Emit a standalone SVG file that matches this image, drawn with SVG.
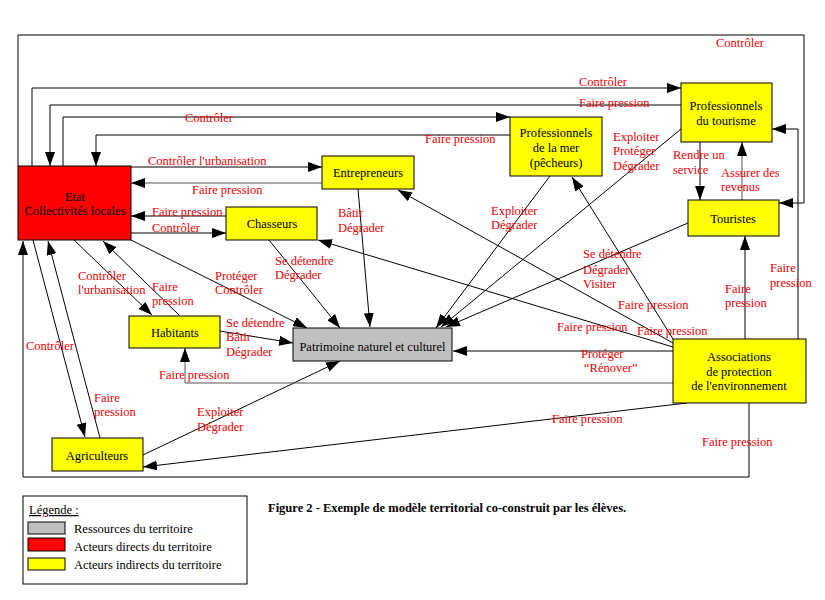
<svg xmlns="http://www.w3.org/2000/svg" width="825" height="600" viewBox="0 0 825 600">
<style>
.n{stroke:#000;stroke-width:1}
.y{fill:#ffff00}
.r{fill:#ff0000}
.g{fill:#c0c0c0}
.t{font-family:"Liberation Serif","Times New Roman",serif;font-size:12.5px;fill:#000}
.c{text-anchor:middle}
.l{font-family:"Liberation Serif","Times New Roman",serif;font-size:12.5px;fill:#ee0000}
.e path{fill:none;stroke:#000;stroke-width:1;marker-end:url(#a)}
.e path.q{stroke:#555}
</style>
<defs>
<marker id="a" viewBox="0 0 14 10" refX="14" refY="5" markerWidth="14" markerHeight="10" markerUnits="userSpaceOnUse" orient="auto">
<path d="M0,0 L14,5 L0,10 z" fill="#000"/>
</marker>
</defs>
<rect width="825" height="600" fill="#fff"/>
<g class="e" id="connectors">
<path d="M18,166 V35 H804 V203 H779"/>
<path d="M32,166 V88 H681"/>
<path d="M681,105 H50 V166"/>
<path d="M63,166 V117 H510"/>
<path d="M510,135 H96 V166"/>
<path d="M131,167 H322"/>
<path class="q" d="M322,183 H131"/>
<path d="M226,216 H131"/>
<path d="M131,233 H226"/>
<path d="M700,142 V200"/>
<path class="q" d="M742,200 V142"/>
<path d="M745,339 V236"/>
<path d="M798,339 V129 H772"/>
<path d="M749,403 V477 H23 V241"/>
<path d="M33,240 L85,437"/>
<path d="M100,438 L48,241"/>
<path d="M74,240 L152,315"/>
<path d="M179,315 L103,241"/>
<path d="M131,240 L307,328"/>
<path d="M269,240 L340,328"/>
<path d="M358,189 L370,327"/>
<path d="M220,331 L293,343"/>
<path d="M143,455 L340,361"/>
<path d="M550,176 L436,328"/>
<path d="M681,129 L441,327"/>
<path d="M688,223 L446,327"/>
<path d="M673,339 L572,177"/>
<path d="M673,343 L398,190"/>
<path d="M673,347 L318,240"/>
<path d="M673,351 H453"/>
<path class="q" d="M673,383 H185 V348"/>
<path d="M687,403 L143,467"/>
</g>
<g id="etat"><rect class="n r" x="18" y="166" width="113" height="74"/><text class="t c" x="75" y="201">Etat</text><text class="t c" x="75" y="215">Collectivités locales</text></g>
<g id="entrepreneurs"><rect class="n y" x="322" y="156" width="92" height="33"/><text class="t c" x="368" y="177">Entrepreneurs</text></g>
<g id="chasseurs"><rect class="n y" x="226" y="207" width="91" height="33"/><text class="t c" x="272" y="228">Chasseurs</text></g>
<g id="habitants"><rect class="n y" x="129" y="316" width="91" height="32"/><text class="t c" x="175" y="337">Habitants</text></g>
<g id="patrimoine"><rect class="n g" x="293" y="328" width="159" height="33"/><text class="t c" x="372.5" y="351">Patrimoine naturel et culturel</text></g>
<g id="agriculteurs"><rect class="n y" x="52" y="438" width="91" height="33"/><text class="t c" x="97" y="460">Agriculteurs</text></g>
<g id="prof-mer"><rect class="n y" x="510" y="117" width="92" height="59"/><text class="t c" x="556" y="137">Professionnels</text><text class="t c" x="556" y="152">de la mer</text><text class="t c" x="556" y="167">(pêcheurs)</text></g>
<g id="prof-tourisme"><rect class="n y" x="681" y="83" width="91" height="59"/><text class="t c" x="726" y="110">Professionnels</text><text class="t c" x="726" y="125">du tourisme</text></g>
<g id="touristes"><rect class="n y" x="688" y="200" width="91" height="36"/><text class="t c" x="733" y="223">Touristes</text></g>
<g id="associations"><rect class="n y" x="673" y="339" width="133" height="64"/><text class="t c" x="739" y="361">Associations</text><text class="t c" x="739" y="376">de protection</text><text class="t c" x="739" y="390">de l'environnement</text></g>
<g id="labels">
<text class="l" x="716" y="47">Contrôler</text>
<text class="l" x="579" y="86">Contrôler</text>
<text class="l" x="579" y="107">Faire pression</text>
<text class="l" x="185" y="122">Contrôler</text>
<text class="l" x="425" y="143">Faire pression</text>
<text class="l" x="148" y="165">Contrôler l'urbanisation</text>
<text class="l" x="192" y="194">Faire pression</text>
<text class="l" x="152" y="216">Faire pression</text>
<text class="l" x="152" y="232">Contrôler</text>
<text class="l" x="338" y="217">Bâtir</text><text class="l" x="338" y="232">Dégrader</text>
<text class="l" x="491" y="215">Exploiter</text><text class="l" x="491" y="229">Dégrader</text>
<text class="l" x="613" y="141">Exploiter</text><text class="l" x="613" y="155">Protéger</text><text class="l" x="613" y="170">Dégrader</text>
<text class="l" x="673" y="159">Rendre un</text><text class="l" x="673" y="174">service</text>
<text class="l" x="721" y="177">Assurer des</text><text class="l" x="721" y="191">revenus</text>
<text class="l" x="583" y="258">Se détendre</text><text class="l" x="583" y="274">Dégrader</text><text class="l" x="583" y="288">Visiter</text>
<text class="l" x="618" y="309">Faire pression</text>
<text class="l" x="557" y="331">Faire pression</text>
<text class="l" x="637" y="335">Faire pression</text>
<text class="l" x="725" y="293">Faire</text><text class="l" x="725" y="307">pression</text>
<text class="l" x="770" y="272">Faire</text><text class="l" x="770" y="287">pression</text>
<text class="l" x="581" y="358">Protéger</text><text class="l" x="584" y="372">“Rénover”</text>
<text class="l" x="159" y="379">Faire pression</text>
<text class="l" x="552" y="423">Faire pression</text>
<text class="l" x="702" y="446">Faire pression</text>
<text class="l" x="197" y="416">Exploiter</text><text class="l" x="197" y="431">Dégrader</text>
<text class="l" x="94" y="402">Faire</text><text class="l" x="94" y="416">pression</text>
<text class="l" x="26" y="350">Contrôler</text>
<text class="l" x="78" y="280">Contrôler</text><text class="l" x="78" y="294">l'urbanisation</text>
<text class="l" x="152" y="291">Faire</text><text class="l" x="152" y="305">pression</text>
<text class="l" x="215" y="280">Protéger</text><text class="l" x="215" y="294">Contrôler</text>
<text class="l" x="275" y="265">Se détendre</text><text class="l" x="275" y="279">Dégrader</text>
<text class="l" x="226" y="327">Se détendre</text><text class="l" x="226" y="341">Bâtir</text><text class="l" x="226" y="356">Dégrader</text>
</g>
<g id="legend">
<rect x="23" y="496" width="224" height="88" fill="#fff" stroke="#000"/>
<text class="t" x="29" y="514" text-decoration="underline">Légende :</text>
<rect class="n g" x="28" y="522" width="37" height="12"/>
<rect class="n r" x="28" y="538" width="37" height="13"/>
<rect class="n y" x="28" y="558" width="37" height="12"/>
<text class="t" x="74" y="533">Ressources du territoire</text>
<text class="t" x="74" y="551">Acteurs directs du territoire</text>
<text class="t" x="74" y="569">Acteurs indirects du territoire</text>
</g>
<text id="caption" class="t" x="268" y="512" font-weight="bold">Figure 2 - Exemple de modèle territorial co-construit par les élèves.</text>
</svg>
